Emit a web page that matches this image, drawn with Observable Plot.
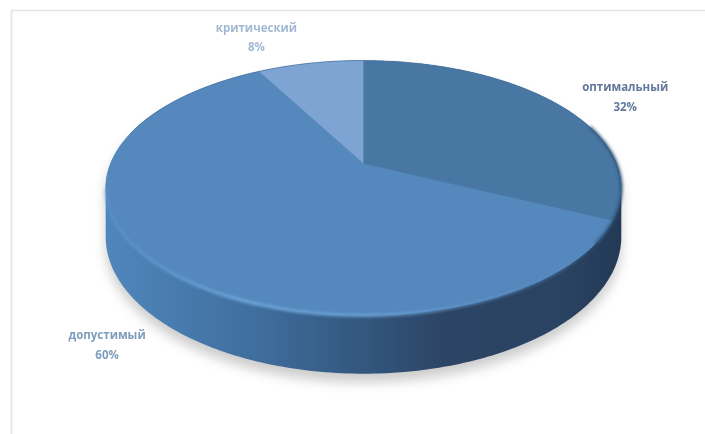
<!DOCTYPE html>
<html lang="ru">
<head>
<meta charset="utf-8">
<script src="https://cdn.jsdelivr.net/npm/d3@7"></script>
<script src="https://cdn.jsdelivr.net/npm/@observablehq/plot@0.6"></script>
<style>
  html, body { margin: 0; background: #fff; }
  svg { display: block; filter: blur(0.5px); }
  path[aria-label="shadow"] { filter: blur(6px); }
  path[aria-label="highlight"] { filter: blur(1.4px); }
  path[aria-label="edge"] { filter: blur(1.5px); }
</style>
</head>
<body>
<script>
const labels = ["оптимальный", "допустимый", "критический"];
const shares = [32, 60, 8];
const colors = ["#4877a3", "#5588bd", "#7da4d2"];

// camera of the 3D pie, in plot units
const tilt = 0.192;
const thickness = 0.383;

const project = (deg, lift = 0, radius = 1) => {
  const t = deg * Math.PI / 180;
  const X = radius * Math.sin(t), Y = radius * Math.cos(t);
  const w = 1 + tilt * Y;
  return {px: X / w, py: (Y - lift) / w};
};

const arc = (from, to, lift = 0) =>
  d3.range(from, to, 1).concat(to).map(d => project(d, lift));

// slices from the shares, clockwise from twelve o'clock
let running = 0;
const slices = labels.flatMap((name, i) => {
  const from = running * 3.6;
  running += shares[i];
  const to = running * 3.6;
  return [{px: 0, py: 0}, ...arc(from, to)].map(p => ({...p, name}));
});

const hull = d3.polygonHull(
  [...arc(0, 360), ...arc(0, 360, thickness)].map(p => [p.px, p.py])
).map(([px, py]) => ({px, py}));
const shadow = hull.map(p => ({px: p.px, py: p.py - 0.07}));
const frontRim = arc(100, 258).reverse();
const rightEdge = arc(72, 125);
const backRim = arc(285, 360);

const mid = i => (d3.sum(shares.slice(0, i)) + shares[i] / 2) * 3.6;
const textMark = (i, dx, dy, fill) => {
  const a = project(mid(i));
  return Plot.text([`${labels[i]}\n${shares[i]}%`], {
    x: () => a.px, y: () => a.py, dx, dy, fill,
    fontFamily: "Open Sans", fontWeight: 700, fontSize: 11.5,
    lineHeight: 1.72, textAnchor: "middle"
  });
};
const tag = name => () => name;

const defs = () => {
  const el = document.createElementNS("http://www.w3.org/2000/svg", "defs");
  el.innerHTML = `
    <linearGradient id="side" x1="0" x2="1" y1="0" y2="0">
      <stop offset="0" stop-color="#4f86bc"/>
      <stop offset="0.1" stop-color="#4a7eb1"/>
      <stop offset="0.28" stop-color="#406f9f"/>
      <stop offset="0.5" stop-color="#33577e"/>
      <stop offset="0.66" stop-color="#2c4465"/>
      <stop offset="0.88" stop-color="#2a4362"/>
      <stop offset="1" stop-color="#233a56"/>
    </linearGradient>
    <linearGradient id="rim" x1="0" x2="1" y1="0" y2="0">
      <stop offset="0" stop-color="#5f97cd" stop-opacity="0.55"/>
      <stop offset="0.25" stop-color="#70a8dc"/>
      <stop offset="0.55" stop-color="#6ea4d8" stop-opacity="0.9"/>
      <stop offset="0.85" stop-color="#5a90c6" stop-opacity="0.5"/>
      <stop offset="1" stop-color="#5a90c6" stop-opacity="0"/>
    </linearGradient>`;
  return el;
};

const chart = Plot.plot({
  width: 705,
  height: 434,
  marginTop: 10,
  marginLeft: 11,
  marginRight: 0,
  marginBottom: 0,
  axis: null,
  x: {domain: [-1, 1], range: [110, 616]},
  y: {domain: [1, -1], range: [40.2, 285.8]},
  color: {domain: labels, range: colors},
  marks: [
    Plot.frame({anchor: "top", stroke: "#e4e4e4", strokeWidth: 1.5}),
    Plot.frame({anchor: "left", stroke: "#e8e8e8", strokeWidth: 2}),
    defs,
    Plot.line(shadow, {x: "px", y: "py", fill: "#000", fillOpacity: 0.2, stroke: "none", ariaLabel: tag("shadow")}),
    Plot.line(hull, {x: "px", y: "py", fill: "url(#side)", stroke: "none"}),
    Plot.line(slices, {x: "px", y: "py", z: "name", fill: "name", stroke: "name", strokeWidth: 0.4}),
    Plot.line(backRim, {x: "px", y: "py", stroke: "#3f6a96", strokeWidth: 0.8, strokeOpacity: 0.7}),
    Plot.line(rightEdge, {x: "px", y: "py", stroke: "#2f5478", strokeWidth: 2.5, ariaLabel: tag("edge")}),
    Plot.line(frontRim, {x: "px", y: "py", stroke: "url(#rim)", strokeWidth: 3, ariaLabel: tag("highlight")}),
    textMark(0, 68, -9, "#62789a"),
    textMark(1, -55, 75, "#7f9dbb"),
    textMark(2, -54, -28, "#a3b9d3")
  ]
});
document.body.append(chart);
</script>
</body>
</html>
